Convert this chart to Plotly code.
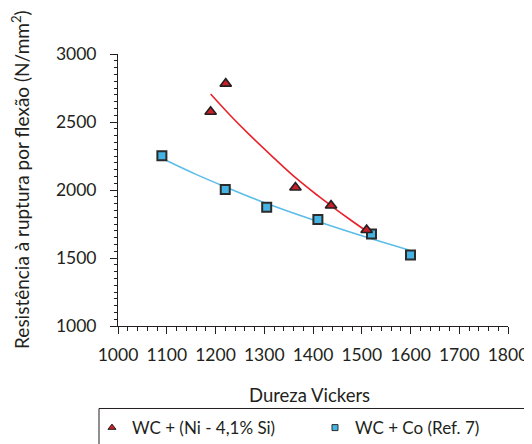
import plotly.graph_objects as go

# Data
ni_hv = [1190, 1221, 1364, 1437, 1510]
ni_strength = [2575, 2782, 2018, 1886, 1706]

co_hv = [1090, 1220, 1305, 1410, 1520, 1600]
co_strength = [2252, 2003, 1873, 1784, 1676, 1522]

# Trend curves, points
ni_trend_hv = [1190, 1230, 1270, 1320, 1366, 1410, 1438, 1475, 1508]
ni_trend_strength = [2706, 2550, 2405, 2235, 2085, 1958, 1882, 1785, 1702]

co_trend_hv = [1093, 1160, 1221, 1305, 1410, 1510, 1598]
co_trend_strength = [2228, 2115, 2022, 1900, 1768, 1652, 1557]

x_ticks = [1000, 1100, 1200, 1300, 1400, 1500, 1600, 1700, 1800]
y_ticks = [1000, 1500, 2000, 2500, 3000]

series_names = ["WC + (Ni - 4,1% Si)", "WC + Co (Ref. 7)"]
x_title = "Dureza Vickers"
y_title = "Resistência à ruptura por flexão (N/mm<sup>2</sup>)"

TXT = "#231f20"
RED = "#c8202a"
RED_LINE = "#e8232b"
BLUE = "#45b4e3"
BLUE_LINE = "#5cbde9"
FONT = "Lato"

fig = go.Figure()

fig.add_trace(go.Scatter(x=ni_trend_hv, y=ni_trend_strength, mode="lines",
                         line=dict(color=RED_LINE, width=1.6, shape="spline"),
                         showlegend=False, hoverinfo="skip"))
fig.add_trace(go.Scatter(x=co_trend_hv, y=co_trend_strength, mode="lines",
                         line=dict(color=BLUE_LINE, width=1.6, shape="spline"),
                         showlegend=False, hoverinfo="skip"))

fig.add_trace(go.Scatter(x=co_hv, y=co_strength, mode="markers",
                         marker=dict(symbol="square", size=9, color=BLUE,
                                     line=dict(color="#2b2b2b", width=2)),
                         showlegend=False))
fig.add_trace(go.Scatter(x=ni_hv, y=ni_strength, mode="markers",
                         marker=dict(symbol="triangle-up", size=10, color=RED,
                                     line=dict(color=TXT, width=1.6)),
                         showlegend=False))

# legend entries
fig.add_trace(go.Scatter(x=[None], y=[None], mode="markers", name=series_names[0],
                         marker=dict(symbol="triangle-up", size=7, color=RED,
                                     line=dict(color=TXT, width=1))))
fig.add_trace(go.Scatter(x=[None], y=[None], mode="markers", name=series_names[1],
                         marker=dict(symbol="square", size=6, color=BLUE,
                                     line=dict(color="#2b2b2b", width=1))))

axis_common = dict(
    showline=True, linecolor=TXT, linewidth=1,
    showgrid=False, zeroline=False,
    ticks="outside", ticklen=7, tickwidth=1, tickcolor=TXT,
    tickfont=dict(family=FONT, size=17.5, color=TXT),
)

fig.update_xaxes(range=[1000, 1800], tickvals=x_ticks,
                 ticktext=[str(v) for v in x_ticks],
                 minor=dict(dtick=20, ticks="outside", ticklen=4, tickcolor=TXT, tickwidth=1),
                 ticklabelstandoff=6, **axis_common)
fig.update_yaxes(range=[1000, 3000], tickvals=y_ticks,
                 ticktext=[str(v) for v in y_ticks],
                 minor=dict(dtick=50, ticks="outside", ticklen=3, tickcolor=TXT, tickwidth=1),
                 ticklabelstandoff=10, **axis_common)

fig.add_annotation(text=x_title, xref="paper", yref="paper", x=0.49, y=-0.254,
                   xanchor="center", yanchor="middle", showarrow=False,
                   font=dict(family=FONT, size=18.5, color=TXT))
fig.add_annotation(text=y_title, xref="paper", yref="paper", x=-0.2487, y=0.537,
                   xanchor="center", yanchor="middle", showarrow=False, textangle=-90,
                   font=dict(family=FONT, size=19, color=TXT))

# legend frame
fig.add_shape(type="rect", xref="paper", yref="paper",
              x0=-0.0487, x1=1.0513, y0=-0.3033, y1=-0.46,
              line=dict(color=TXT, width=1), fillcolor="rgba(0,0,0,0)")

fig.update_layout(
    width=524, height=436,
    margin=dict(l=110, r=24, t=46, b=118, autoexpand=False),
    paper_bgcolor="white", plot_bgcolor="white",
    showlegend=True,
    legend=dict(orientation="h", x=-0.0667, xanchor="left", y=-0.309, yanchor="top",
                borderwidth=0, bgcolor="rgba(0,0,0,0)",
                font=dict(family=FONT, size=17, color=TXT),
                entrywidth=178, entrywidthmode="pixels"),
)

fig.write_html("out.html")
